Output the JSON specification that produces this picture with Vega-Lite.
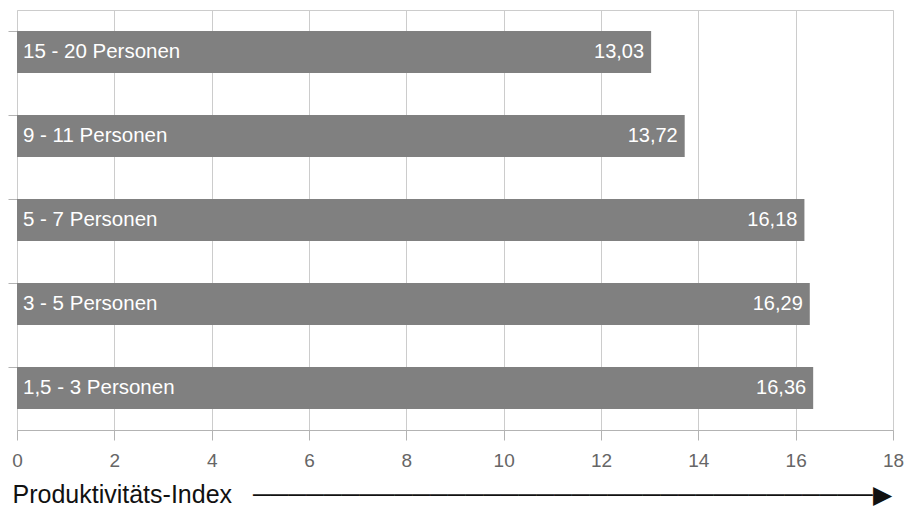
{
  "$schema": "https://vega.github.io/schema/vega-lite/v6.json",
  "width": 876,
  "height": 420,
  "autosize": {"type": "none"},
  "padding": {"left": 17, "top": 10, "right": 14, "bottom": 76},
  "background": "white",
  "config": {
    "font": "Liberation Sans",
    "view": {"stroke": "#cccccc", "strokeWidth": 1},
    "locale": {"number": {"decimal": ",", "thousands": ".", "grouping": [3], "currency": ["", " €"]}}
  },
  "data": {
    "values": [
      {"gruppe": "15 - 20 Personen", "index": 13.03},
      {"gruppe": "9 - 11 Personen", "index": 13.72},
      {"gruppe": "5 - 7 Personen", "index": 16.18},
      {"gruppe": "3 - 5 Personen", "index": 16.29},
      {"gruppe": "1,5 - 3 Personen", "index": 16.36}
    ]
  },
  "encoding": {
    "y": {
      "field": "gruppe",
      "type": "nominal",
      "sort": null,
      "scale": {"paddingInner": 0.5, "paddingOuter": 0.25},
      "axis": {
        "title": null,
        "labels": false,
        "domain": false,
        "grid": false,
        "ticks": true,
        "bandPosition": 0,
        "tickSize": 9,
        "tickColor": "#b3b3b3"
      }
    }
  },
  "layer": [
    {
      "mark": {"type": "bar", "color": "#808080"},
      "encoding": {
        "x": {
          "field": "index",
          "type": "quantitative",
          "scale": {"domain": [0, 18], "nice": false},
          "axis": {
            "values": [0, 2, 4, 6, 8, 10, 12, 14, 16, 18],
            "grid": true,
            "gridColor": "#cccccc",
            "domainColor": "#b3b3b3",
            "tickColor": "#b3b3b3",
            "tickSize": 10,
            "labelFontSize": 19,
            "labelColor": "#666666",
            "labelPadding": 11,
            "labelFlush": false,
            "format": "d",
            "title": "Produktivitäts-Index\u00a0\u00a0\u00a0───────────────────────────────────▶",
            "titleFont": "Liberation Sans",
            "titleFontSize": 25,
            "titleFontWeight": "normal",
            "titleColor": "#111111",
            "titleAnchor": "start",
            "titleAlign": "left",
            "titleBaseline": "alphabetic",
            "titleLimit": 0,
            "titleX": -5,
            "titleY": 72
          }
        }
      }
    },
    {
      "mark": {"type": "text", "align": "left", "baseline": "middle", "dx": 6, "fontSize": 20.5, "color": "white"},
      "encoding": {
        "x": {"datum": 0, "type": "quantitative"},
        "text": {"field": "gruppe"}
      }
    },
    {
      "mark": {"type": "text", "align": "right", "baseline": "middle", "dx": -7, "fontSize": 20, "color": "white"},
      "encoding": {
        "x": {"field": "index", "type": "quantitative"},
        "text": {"field": "index", "type": "quantitative", "format": ".2f"}
      }
    }
  ]
}
